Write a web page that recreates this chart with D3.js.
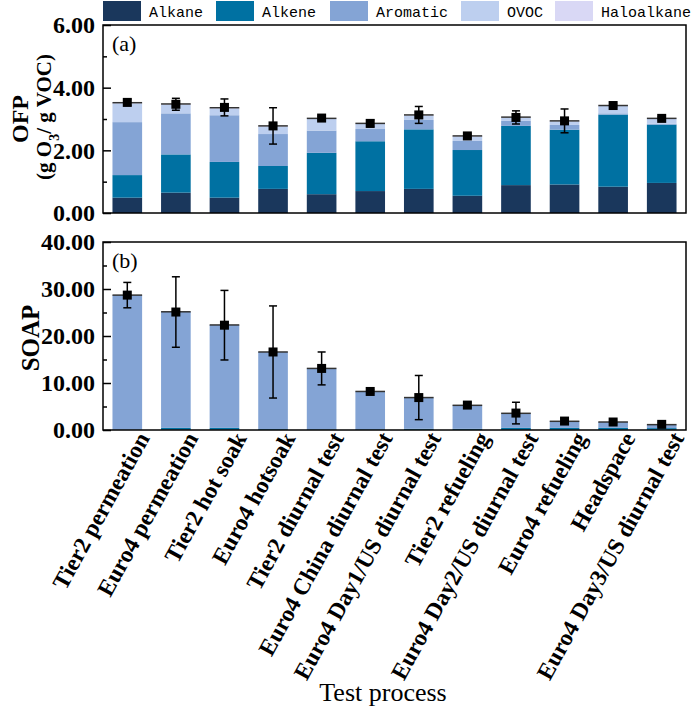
<!DOCTYPE html>
<html><head><meta charset="utf-8">
<script src="https://cdn.jsdelivr.net/npm/d3@7"></script>
<style>body{margin:0;background:#fff}svg{display:block}</style>
</head><body>
<script>
const categories = ["Tier2 permeation","Euro4 permeation","Tier2 hot soak","Euro4 hotsoak","Tier2 diurnal test","Euro4 China diurnal test","Euro4 Day1/US diurnal test","Tier2 refueling","Euro4 Day2/US diurnal test","Euro4 refueling","Headspace","Euro4 Day3/US diurnal test"];
const seriesNames = ["Alkane","Alkene","Aromatic","OVOC","Haloalkane"];
const seriesColors = ["#1a375c","#0071a2","#84a4d5","#bdcfef","#d9d8f5"];

const ofpAlkane   = [0.49,0.65,0.49,0.77,0.60,0.70,0.77,0.55,0.89,0.91,0.84,0.96];
const ofpAlkene   = [0.72,1.22,1.14,0.73,1.32,1.59,1.90,1.46,1.89,1.75,2.30,1.86];
const ofpAromatic = [1.69,1.31,1.49,1.02,0.71,0.39,0.30,0.29,0.16,0.15,0.04,0.03];
const ofpOVOC     = [0.60,0.28,0.22,0.24,0.37,0.16,0.14,0.14,0.10,0.12,0.24,0.16];
const ofpHalo     = [0.02,0.02,0.02,0.02,0.02,0.02,0.02,0.02,0.02,0.01,0.01,0.01];
const ofpMean     = [3.53,3.47,3.37,2.78,3.03,2.86,3.13,2.46,3.05,2.94,3.43,3.02];
const ofpErr      = [0.10,0.19,0.27,0.58,0.06,0.11,0.27,0.06,0.21,0.38,0.05,0.05];

const soapAlkane   = [0.05,0.10,0.10,0.05,0.05,0.05,0.05,0.05,0.05,0.05,0.05,0.05];
const soapAlkene   = [0.05,0.35,0.35,0.15,0.10,0.10,0.20,0.20,0.40,0.40,0.40,0.35];
const soapAromatic = [28.6,24.7,21.9,16.4,12.95,8.05,6.65,5.0,3.1,1.4,1.25,0.74];
const soapOVOC     = [0,0,0,0,0,0,0,0,0,0,0,0];
const soapHalo     = [0,0,0,0,0,0,0,0,0,0,0,0];
const soapMean     = [28.7,25.1,22.3,16.6,13.1,8.2,6.9,5.3,3.6,1.9,1.7,1.2];
const soapErr      = [2.7,7.5,7.4,9.8,3.5,0.4,4.7,0.5,2.3,0.5,0.4,0.4];

const ofpTicks = [0,2,4,6], ofpMinor = [1,3,5];
const soapTicks = [0,10,20,30,40], soapMinor = [5,15,25,35];

const W = 697, H = 712;
const svg = d3.select("body").append("svg").attr("width", W).attr("height", H);
const left = 103, right = 686;
const x = d3.scaleBand().domain(categories).range([left, right]).paddingInner(0.39).paddingOuter(0.195);

const serif = "'Liberation Serif','Times New Roman',serif";

function panel(opts) {
  const y = d3.scaleLinear().domain(opts.domain).range([opts.bottom, opts.top]);
  const rows = categories.map((c, i) => {
    const r = {cat: c};
    opts.series.forEach((s, k) => r[seriesNames[k]] = s[i]);
    return r;
  });
  const stack = d3.stack().keys(seriesNames)(rows);
  const g = svg.append("g");
  stack.forEach((layer, k) => {
    g.selectAll(null).data(layer).join("rect")
      .attr("x", d => x(d.data.cat))
      .attr("width", x.bandwidth())
      .attr("y", d => y(d[1]))
      .attr("height", d => Math.max(0, y(d[0]) - y(d[1])))
      .attr("fill", seriesColors[k]);
  });
  const totals = rows.map(r => seriesNames.reduce((a, k) => a + r[k], 0));
  g.selectAll(null).data(categories).join("line")
    .attr("x1", c => x(c)).attr("x2", c => x(c) + x.bandwidth())
    .attr("y1", (c, i) => y(totals[i])).attr("y2", (c, i) => y(totals[i]))
    .attr("stroke", "#333").attr("stroke-width", 1.5);
  const cx = c => x(c) + x.bandwidth() / 2;
  const eg = g.append("g").attr("stroke", "#000").attr("stroke-width", 1.5);
  categories.forEach((c, i) => {
    const m = opts.mean[i], e = opts.err[i];
    eg.append("line").attr("x1", cx(c)).attr("x2", cx(c)).attr("y1", y(m + e)).attr("y2", y(m - e));
    eg.append("line").attr("x1", cx(c) - 4).attr("x2", cx(c) + 4).attr("y1", y(m + e)).attr("y2", y(m + e));
    eg.append("line").attr("x1", cx(c) - 4).attr("x2", cx(c) + 4).attr("y1", y(m - e)).attr("y2", y(m - e));
  });
  g.selectAll(null).data(categories).join("rect")
    .attr("x", c => cx(c) - 4.5).attr("y", (c, i) => y(opts.mean[i]) - 4.5)
    .attr("width", 9).attr("height", 9).attr("fill", "#000");
  const ax = g.append("g").attr("transform", `translate(${left},0)`)
    .call(d3.axisRight(y).tickValues(opts.ticks).tickSize(8).tickFormat(d3.format(".2f")));
  ax.select(".domain").remove();
  ax.selectAll(".tick line").attr("stroke", "#000").attr("stroke-width", 1.5);
  ax.selectAll(".tick text").attr("x", -8).attr("text-anchor", "end")
    .attr("font-family", serif).attr("font-weight", "bold").attr("font-size", 24).attr("fill", "#000");
  const ax2 = g.append("g").attr("transform", `translate(${left},0)`)
    .call(d3.axisRight(y).tickValues(opts.minor).tickSize(4).tickFormat(""));
  ax2.select(".domain").remove();
  ax2.selectAll(".tick line").attr("stroke", "#000").attr("stroke-width", 1.5);
  g.append("rect").attr("x", left).attr("y", opts.top).attr("width", right - left)
    .attr("height", opts.bottom - opts.top).attr("fill", "none").attr("stroke", "#000").attr("stroke-width", 1.5);
  g.append("text").attr("x", left + 9).attr("y", opts.top + 26).text(opts.label)
    .attr("font-family", serif).attr("font-size", 22);
  return y;
}

panel({top: 25, bottom: 213, domain: [0, 6], series: [ofpAlkane, ofpAlkene, ofpAromatic, ofpOVOC, ofpHalo],
  mean: ofpMean, err: ofpErr, ticks: ofpTicks, minor: ofpMinor, label: "(a)"});
panel({top: 242, bottom: 430, domain: [0, 40], series: [soapAlkane, soapAlkene, soapAromatic, soapOVOC, soapHalo],
  mean: soapMean, err: soapErr, ticks: soapTicks, minor: soapMinor, label: "(b)"});

svg.append("text").attr("transform", "translate(28,119) rotate(-90)")
  .attr("text-anchor", "middle").attr("font-family", serif).attr("font-weight", "bold").attr("font-size", 24).text("OFP");
const t2 = svg.append("text").attr("transform", "translate(51,117) rotate(-90)")
  .attr("text-anchor", "middle").attr("font-family", serif).attr("font-weight", "bold").attr("font-size", 21);
t2.append("tspan").text("(g O");
t2.append("tspan").attr("baseline-shift", "sub").attr("font-size", 14).text("3");
t2.append("tspan").text("/ g VOC)");
svg.append("text").attr("transform", "translate(39,338) rotate(-90)")
  .attr("text-anchor", "middle").attr("font-family", serif).attr("font-weight", "bold").attr("font-size", 25).text("SOAP");

svg.append("g").selectAll("text").data(categories).join("text")
  .attr("transform", c => `translate(${x(c) + x.bandwidth() / 2 + 23},${438}) rotate(-61)`)
  .attr("text-anchor", "end").attr("font-family", serif).attr("font-weight", "bold").attr("font-size", 23.5)
  .text(c => c);
svg.append("text").attr("x", 383).attr("y", 701).attr("text-anchor", "middle")
  .attr("font-family", serif).attr("font-size", 26).text("Test process");

const lg = svg.append("g");
const legendX = [103, 216, 330, 461, 555];
seriesNames.forEach((n, k) => {
  lg.append("rect").attr("x", legendX[k]).attr("y", 1).attr("width", 38).attr("height", 20).attr("fill", seriesColors[k]);
  lg.append("text").attr("x", legendX[k] + 46).attr("y", 17).text(n)
    .attr("font-family", "'Liberation Mono','DejaVu Sans Mono',monospace").attr("font-size", 15);
});
</script>
</body></html>
